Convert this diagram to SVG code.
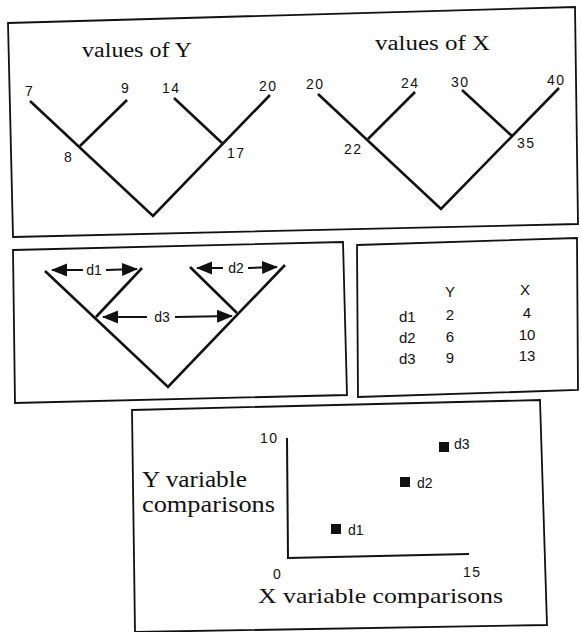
<svg xmlns="http://www.w3.org/2000/svg" width="581" height="632" viewBox="0 0 581 632">
<style>
.box{fill:none;stroke:#111;stroke-width:1.8}
.br{fill:none;stroke:#111;stroke-width:2.6;stroke-linecap:butt}
.ar{fill:none;stroke:#111;stroke-width:2}
.ser{font-family:"Liberation Serif",serif;fill:#111}
.num{font-family:"Liberation Sans",Arial,sans-serif;font-size:14px;fill:#111;letter-spacing:1.5px}
.tab{font-family:"Liberation Sans",Arial,sans-serif;font-size:15px;fill:#111}
.lab{font-family:"Liberation Sans",Arial,sans-serif;font-size:14px;fill:#111}
</style>
<defs>
<marker id="ah" markerUnits="userSpaceOnUse" markerWidth="16" markerHeight="14" refX="15" refY="6.5" orient="auto-start-reverse">
<path d="M0,0 L16,6.5 L0,13 z" fill="#111"/>
</marker>
</defs>
<rect width="581" height="632" fill="#fff"/>

<g id="panel-top">
<polygon class="box" points="8,23 575,7 578,224 13,237"/>
</g>

<g id="tree-y">
<text class="ser" x="82" y="57" font-size="20" textLength="110" lengthAdjust="spacingAndGlyphs">values of Y</text>
<text class="num" x="25" y="96">7</text>
<text class="num" x="121" y="93">9</text>
<text class="num" x="162" y="93">14</text>
<text class="num" x="259" y="91">20</text>
<text class="num" x="64" y="162">8</text>
<text class="num" x="227" y="158">17</text>
</g>

<g id="tree-x">
<text class="ser" x="375" y="50" font-size="20" textLength="115" lengthAdjust="spacingAndGlyphs">values of X</text>
<text class="num" x="306" y="89">20</text>
<text class="num" x="401" y="88">24</text>
<text class="num" x="451" y="87">30</text>
<text class="num" x="547" y="85">40</text>
<text class="num" x="344" y="154">22</text>
<text class="num" x="517" y="148">35</text>
</g>

<g id="panel-dist">
<polygon class="box" points="13,250 343,242 347,395 15,403"/>
<text class="lab" x="94" y="275" text-anchor="middle">d1</text>
<text class="lab" x="236" y="273" text-anchor="middle">d2</text>
<text class="lab" x="162" y="322" text-anchor="middle">d3</text>
</g>

<g id="panel-table">
<polygon class="box" points="357,245 577,238 578,390 358,397"/>
<text class="tab" x="450" y="297" text-anchor="middle">Y</text>
<text class="tab" x="525" y="295" text-anchor="middle">X</text>
<text class="tab" x="399" y="322">d1</text>
<text class="tab" x="399" y="343">d2</text>
<text class="tab" x="399" y="364">d3</text>
<text class="tab" x="450" y="320" text-anchor="middle">2</text>
<text class="tab" x="450" y="342" text-anchor="middle">6</text>
<text class="tab" x="450" y="363" text-anchor="middle">9</text>
<text class="tab" x="527" y="318" text-anchor="middle">4</text>
<text class="tab" x="527" y="340" text-anchor="middle">10</text>
<text class="tab" x="527" y="361" text-anchor="middle">13</text>
</g>

<g id="panel-plot">
<polygon class="box" points="132,410 540,400 547,625 135,632"/>
<path class="ar" d="M287,438 L288,558 L469,554"/>
<text class="lab" x="260" y="443" letter-spacing="1.5">10</text>
<text class="lab" x="273" y="579">0</text>
<text class="lab" x="463" y="577" letter-spacing="1.5">15</text>
<text class="ser" x="142" y="487" font-size="24" textLength="105" lengthAdjust="spacingAndGlyphs">Y variable</text>
<text class="ser" x="142" y="512" font-size="24" textLength="133" lengthAdjust="spacingAndGlyphs">comparisons</text>
<text class="ser" x="258" y="603" font-size="22" textLength="245" lengthAdjust="spacingAndGlyphs">X variable comparisons</text>
</g>
<g id="pt-d1"><rect x="331" y="524" width="10" height="10" fill="#111"/><text class="lab" x="348" y="535">d1</text></g>
<g id="pt-d2"><rect x="400" y="477" width="10" height="10" fill="#111"/><text class="lab" x="417" y="488">d2</text></g>
<g id="pt-d3"><rect x="439" y="442" width="10" height="10" fill="#111"/><text class="lab" x="454" y="449">d3</text></g>

<g id="connectors">
<path class="br" d="M30,101 L153,216 L270,95"/>
<path class="br" d="M127,100 L80,146"/>
<path class="br" d="M174,98 L222,143"/>
<path class="br" d="M318,94 L441,209 L559,88"/>
<path class="br" d="M415,92 L368,139"/>
<path class="br" d="M462,90 L512,136"/>
<path class="br" d="M45,271 L168,387 L285,265"/>
<path class="br" d="M142,268 L96,317"/>
<path class="br" d="M190,267 L237,313"/>
<line class="ar" x1="83" y1="270" x2="52" y2="270" marker-end="url(#ah)"/>
<line class="ar" x1="106" y1="270" x2="137" y2="269" marker-end="url(#ah)"/>
<line class="ar" x1="223" y1="268" x2="197" y2="268" marker-end="url(#ah)"/>
<line class="ar" x1="248" y1="268" x2="277" y2="267" marker-end="url(#ah)"/>
<line class="ar" x1="147" y1="317" x2="103" y2="317" marker-end="url(#ah)"/>
<line class="ar" x1="175" y1="317" x2="232" y2="316" marker-end="url(#ah)"/>
</g>
</svg>
